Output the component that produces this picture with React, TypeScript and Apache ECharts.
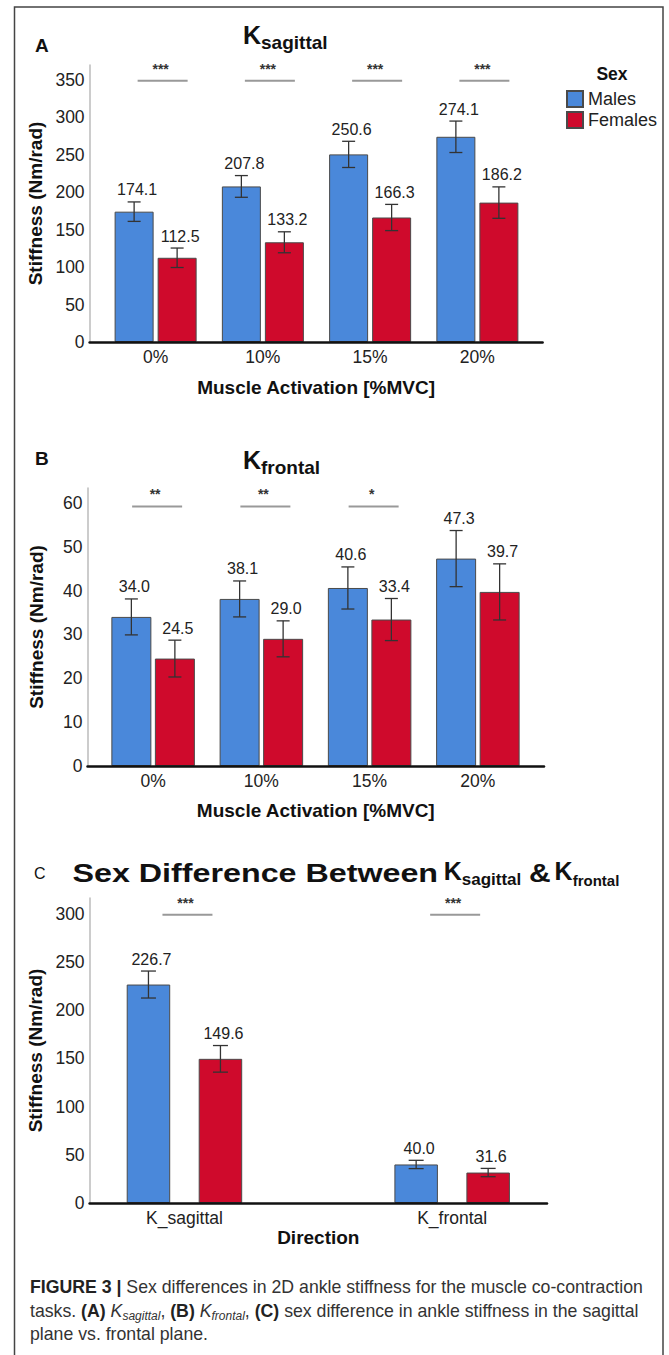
import React, { useEffect, useRef } from 'react';
import * as echarts from 'echarts';

const FONT = '"Liberation Sans", Arimo, Arial, Helvetica, sans-serif';

// ---------- DATA ----------
const categoriesA = ['0%', '10%', '15%', '20%'];
const malesA = [174.1, 207.8, 250.6, 274.1];
const femalesA = [112.5, 133.2, 166.3, 186.2];
const malesErrA = [13, 14.5, 17.5, 21];
const femalesErrA = [13, 14, 17.5, 21];
const sigA = ['***', '***', '***', '***'];
const sigLevelA = 349;
const yMaxA = 370;
const yIntervalA = 50;

const categoriesB = ['0%', '10%', '15%', '20%'];
const malesB = [34.0, 38.1, 40.6, 47.3];
const femalesB = [24.5, 29.0, 33.4, 39.7];
const malesErrB = [4.1, 4.1, 4.8, 6.4];
const femalesErrB = [4.2, 4.1, 4.8, 6.4];
const sigB = ['**', '**', '*', ''];
const sigLevelB = 59.2;
const yMaxB = 63.4;
const yIntervalB = 10;

const categoriesC = ['K_sagittal', 'K_frontal'];
const malesC = [226.7, 40.0];
const femalesC = [149.6, 31.6];
const malesErrC = [14, 4.3];
const femalesErrC = [13.8, 4.3];
const sigC = ['***', '***'];
const sigLevelC = 299;
const yMaxC = 316.5;
const yIntervalC = 50;

const seriesNames = ['Males', 'Females'];
const BLUE = '#4a88da';
const RED = '#cf0a2c';

// ---------- LAYOUT ----------
const panels = [
  {
    cats: categoriesA, m: malesA, f: femalesA, me: malesErrA, fe: femalesErrA, sig: sigA, sigLevel: sigLevelA,
    yMax: yMaxA, yInt: yIntervalA, xName: 'Muscle Activation [%MVC]', xNameGap: 36,
    top: 65, height: 277, frameLeft: 89.6, frameWidth: 453, dataLeft: 102, dataWidth: 429,
    barW: 39, gapPx: 4, sigDx: 7, cap: 6.5,
  },
  {
    cats: categoriesB, m: malesB, f: femalesB, me: malesErrB, fe: femalesErrB, sig: sigB, sigLevel: sigLevelB,
    yMax: yMaxB, yInt: yIntervalB, xName: 'Muscle Activation [%MVC]', xNameGap: 35,
    top: 488, height: 278, frameLeft: 87.5, frameWidth: 456.5, dataLeft: 99, dataWidth: 433,
    barW: 40, gapPx: 3.5, sigDx: 4, cap: 6.5,
  },
  {
    cats: categoriesC, m: malesC, f: femalesC, me: malesErrC, fe: femalesErrC, sig: sigC, sigLevel: sigLevelC,
    yMax: yMaxC, yInt: yIntervalC, xName: 'Direction', xNameGap: 25,
    top: 898, height: 305, frameLeft: 89.6, frameWidth: 457.4, dataLeft: 50.6, dataWidth: 535.4,
    barW: 43.5, gapPx: 28.5, sigDx: 3, cap: 7.5,
  },
];

function errorSeries(name: string, axis: number, values: number[], errs: number[], dx: number, cap: number) {
  return {
    type: 'custom',
    name,
    xAxisIndex: axis,
    yAxisIndex: axis,
    z: 6,
    data: values.map((v, i) => [i, v, errs[i]]),
    encode: { x: 0, y: 1 },
    renderItem: (params: any, api: any) => {
      const i = api.value(0);
      const v = api.value(1);
      const e = api.value(2);
      const pTop = api.coord([i, v + e]);
      const pBot = api.coord([i, v - e]);
      const x = pTop[0] + dx;
      const st = { stroke: '#333', lineWidth: 1.3 };
      return {
        type: 'group',
        children: [
          { type: 'line', shape: { x1: x, y1: pTop[1], x2: x, y2: pBot[1] }, style: st },
          { type: 'line', shape: { x1: x - cap, y1: pTop[1], x2: x + cap, y2: pTop[1] }, style: st },
          { type: 'line', shape: { x1: x - cap, y1: pBot[1], x2: x + cap, y2: pBot[1] }, style: st },
          {
            type: 'text',
            x: x + 3,
            y: pTop[1] - 12,
            style: {
              text: v.toFixed(1), fill: '#222', fontSize: 16, fontFamily: FONT,
              align: 'center', verticalAlign: 'middle', textAlign: 'center', textVerticalAlign: 'middle',
            },
          },
        ],
      };
    },
  };
}

function sigSeries(axis: number, sig: string[], level: number, sdx: number) {
  const items = sig.map((s, i) => ({ i, s })).filter((d) => d.s);
  return {
    type: 'custom',
    name: 'sig' + axis,
    xAxisIndex: axis,
    yAxisIndex: axis,
    z: 6,
    data: items.map((d) => [d.i, level]),
    encode: { x: 0, y: 1 },
    renderItem: (params: any, api: any) => {
      const p = api.coord([api.value(0), api.value(1)]);
      const x = p[0] + sdx;
      return {
        type: 'group',
        children: [
          { type: 'line', shape: { x1: x - 25, y1: p[1], x2: x + 25, y2: p[1] }, style: { stroke: '#999', lineWidth: 2 } },
          {
            type: 'text', x: x - 2, y: p[1] - 12,
            style: {
              text: items[params.dataIndex].s, fill: '#333', fontSize: 14, fontWeight: 'bold', fontFamily: FONT,
              align: 'center', verticalAlign: 'middle', textAlign: 'center', textVerticalAlign: 'middle',
            },
          },
        ],
      };
    },
  };
}

function buildOption() {
  const grid: any[] = [];
  const xAxis: any[] = [];
  const yAxis: any[] = [];
  const series: any[] = [];

  panels.forEach((p, k) => {
    const fi = k * 2;
    const di = k * 2 + 1;
    grid.push({ left: p.frameLeft, top: p.top, width: p.frameWidth, height: p.height });
    grid.push({ left: p.dataLeft, top: p.top, width: p.dataWidth, height: p.height });

    xAxis.push({
      type: 'value', gridIndex: fi, min: 0, max: 1, z: 5,
      axisLine: { show: true, onZero: false, lineStyle: { color: '#111', width: 2.5 } },
      axisTick: { show: false }, axisLabel: { show: false }, splitLine: { show: false },
      name: p.xName, nameLocation: 'middle', nameGap: p.xNameGap,
      nameTextStyle: { fontFamily: FONT, fontSize: 19, fontWeight: 'bold', color: '#111' },
    });
    xAxis.push({
      type: 'category', gridIndex: di, data: p.cats,
      axisLine: { show: false }, axisTick: { show: false },
      axisLabel: { fontFamily: FONT, fontSize: 17.5, color: '#222', margin: 6 },
    });
    yAxis.push({
      type: 'value', gridIndex: fi, min: 0, max: p.yMax, interval: p.yInt,
      axisLine: { show: true, onZero: false, lineStyle: { color: '#bbb', width: 1.5 } },
      axisTick: { show: false }, splitLine: { show: false },
      axisLabel: { fontFamily: FONT, fontSize: 17.5, color: '#222', margin: 5, showMaxLabel: false },
      name: 'Stiffness (Nm/rad)', nameLocation: 'middle', nameGap: 42,
      nameTextStyle: { fontFamily: FONT, fontSize: 19, fontWeight: 'bold', color: '#111' },
    });
    yAxis.push({ type: 'value', gridIndex: di, min: 0, max: p.yMax, show: false });

    const barGap = ((p.gapPx / p.barW) * 100).toFixed(1) + '%';
    series.push({
      type: 'bar', name: seriesNames[0], xAxisIndex: di, yAxisIndex: di, data: p.m,
      barWidth: p.barW, barGap, itemStyle: { color: BLUE, borderColor: '#4a4a4a', borderWidth: 1 },
    });
    series.push({
      type: 'bar', name: seriesNames[1], xAxisIndex: di, yAxisIndex: di, data: p.f,
      barWidth: p.barW, barGap, itemStyle: { color: RED, borderColor: '#4a4a4a', borderWidth: 1 },
    });
    const off = (p.barW + p.gapPx) / 2;
    series.push(errorSeries('err-m-' + k, di, p.m, p.me, -off, p.cap));
    series.push(errorSeries('err-f-' + k, di, p.f, p.fe, off, p.cap));
    series.push(sigSeries(di, p.sig, p.sigLevel, p.sigDx));
  });

  const txt = (x: number, y: number, text: string, extra: any = {}, el: any = {}) => ({
    type: 'text', x, y, ...el,
    style: {
      text, fontFamily: FONT, fill: '#111', verticalAlign: 'middle', textVerticalAlign: 'middle', ...extra,
    },
  });

  const titleRich = (subSize: number, kSize: number) => ({
    k: { fontFamily: FONT, fontSize: kSize, fontWeight: 'bold', fill: '#111', lineHeight: 30, verticalAlign: 'top' },
    s: { fontFamily: FONT, fontSize: subSize, fontWeight: 'bold', fill: '#111', lineHeight: subSize + 1, verticalAlign: 'bottom' },
  });

  const CAP_FS = 17.7;
  const CAP_LH = 23.5;
  const capRich = {
    n: { fontFamily: FONT, fontSize: CAP_FS, fill: '#333', lineHeight: CAP_LH },
    b: { fontFamily: FONT, fontSize: CAP_FS, fontWeight: 'bold', fill: '#222', lineHeight: CAP_LH },
    i: { fontFamily: FONT, fontSize: CAP_FS, fontStyle: 'italic', fill: '#333', lineHeight: CAP_LH },
    is: { fontFamily: FONT, fontSize: 12, fontStyle: 'italic', fill: '#333', lineHeight: 18, verticalAlign: 'bottom' },
  };

  const graphic: any[] = [
    { type: 'rect', shape: { x: 14.5, y: 7, width: 648.5, height: 1400 }, style: { fill: 'none', stroke: '#444', lineWidth: 1.5 }, silent: true },
    txt(35, 45, 'A', { fontSize: 19, fontWeight: 'bold' }),
    txt(35, 458, 'B', { fontSize: 19, fontWeight: 'bold' }),
    txt(34, 873, 'C', { fontSize: 16 }),
    txt(243, 37, '{k|K}{s|sagittal}', { rich: titleRich(19, 25) }),
    txt(243, 462, '{k|K}{s|frontal}', { rich: titleRich(19, 25) }),
    txt(72.5, 873, 'Sex Difference Between', { fontSize: 25, fontWeight: 'bold' }, { scaleX: 1.29 }),
    txt(443.7, 873, '{k|K}{s|sagittal}', { rich: titleRich(17, 25) }),
    txt(529, 873, '&', { fontSize: 25, fontWeight: 'bold' }, { scaleX: 1.2 }),
    txt(554.6, 873, '{k|K}{s|frontal}', { rich: titleRich(15, 25) }),
    txt(612, 74, 'Sex', { fontSize: 17.5, fontWeight: 'bold', align: 'center', textAlign: 'center' }),
    {
      type: 'text', x: 30, y: 1287 - CAP_LH / 2,
      style: {
        text:
          '{b|FIGURE 3 |}{n| Sex differences in 2D ankle stiffness for the muscle co-contraction}\n' +
          '{n|tasks. }{b|(A)}{n| }{i|K}{is|sagittal}{n|, }{b|(B)}{n| }{i|K}{is|frontal}{n|, }{b|(C)}{n| sex difference in ankle stiffness in the sagittal}\n' +
          '{n|plane vs. frontal plane.}',
        rich: capRich, fontFamily: FONT, fontSize: CAP_FS, fill: '#333', lineHeight: CAP_LH,
        verticalAlign: 'top', textVerticalAlign: 'top',
      },
    },
  ];

  return {
    animation: false,
    backgroundColor: '#fff',
    grid,
    xAxis,
    yAxis,
    series,
    legend: {
      data: seriesNames, orient: 'vertical', left: 566, top: 90, itemWidth: 16, itemHeight: 16, itemGap: 3,
      padding: 0, selectedMode: false, icon: 'rect',
      textStyle: { fontFamily: FONT, fontSize: 18, color: '#222' },
    },
    graphic,
  };
}

export default function App() {
  const ref = useRef<HTMLDivElement>(null);
  useEffect(() => {
    if (!ref.current) return;
    const chart = echarts.init(ref.current, null, { renderer: 'svg' });
    chart.setOption(buildOption() as any);
    return () => chart.dispose();
  }, []);
  return (
    <div
      ref={ref}
      style={{ position: 'absolute', left: 0, top: 0, width: 669, height: 1355, background: '#fff' }}
    />
  );
}
